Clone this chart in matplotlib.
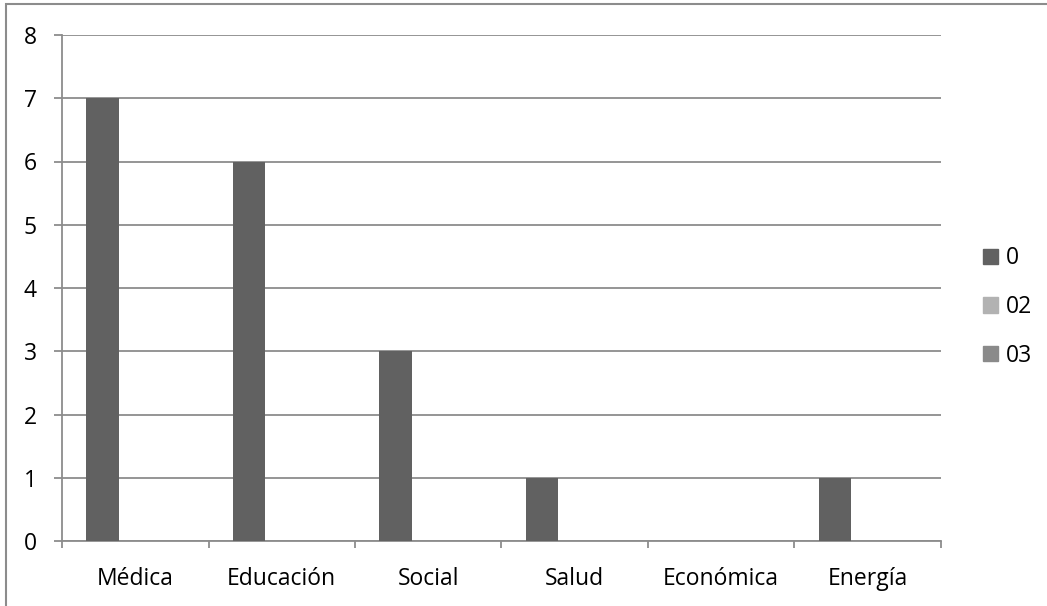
import numpy as np
import matplotlib.pyplot as plt
from matplotlib.patches import Rectangle, Patch

categories = ['Médica', 'Educación', 'Social', 'Salud', 'Económica', 'Energía']
series_names = ['0', '02', '03']
serie_0 = [7, 6, 3, 1, 0, 1]
serie_02 = [0, 0, 0, 0, 0, 0]
serie_03 = [0, 0, 0, 0, 0, 0]
colors = ['#616161', '#b2b2b2', '#8a8a8a']

plt.rcParams['font.family'] = ['Open Sans', 'DejaVu Sans']

fig = plt.figure(figsize=(10.47, 6.06), dpi=100)
fig.patches.append(Rectangle((6 / 1047, -0.01), 1.1, 1 - 4 / 606 + 0.01,
                             transform=fig.transFigure, fill=False,
                             edgecolor='#8c8c8c', linewidth=1.5))
ax = fig.add_axes([62 / 1047, 65 / 606, 879 / 1047, 506 / 606])

x = np.arange(len(categories))
w = 0.222
for i, vals in enumerate([serie_0, serie_02, serie_03]):
    ax.bar(x + (i - 1) * w, vals, width=w, color=colors[i], zorder=3)

ax.set_xlim(-0.5, len(categories) - 0.5)
ax.set_ylim(0, 8)
ax.set_yticks(range(0, 9))
ax.yaxis.grid(True, color='#8c8c8c', linewidth=1.3, zorder=0)
ax.set_xticks(np.arange(-0.5, len(categories), 1))
ax.set_xticklabels([])
ax.set_xticks(x, minor=True)
ax.set_xticklabels(categories, minor=True)
ax.tick_params(axis='x', which='major', length=5, width=1.3, color='#8c8c8c', direction='out')
ax.tick_params(axis='x', which='minor', length=0, pad=18.5, labelsize=16.5)
ax.tick_params(axis='y', length=6, width=1.3, color='#8c8c8c', labelsize=16.5, pad=12)
for s in ['top', 'right']:
    ax.spines[s].set_visible(False)
for s in ['left', 'bottom']:
    ax.spines[s].set_color('#8c8c8c')
    ax.spines[s].set_linewidth(1.3)

handles = [Patch(color=c) for c in colors]
fig.legend(handles, series_names, loc='center left', bbox_to_anchor=(983 / 1047, 1 - 307 / 606),
           frameon=False, fontsize=16.5, handlelength=0.65, handleheight=0.65,
           handletextpad=0.35, labelspacing=1.08, borderpad=0, borderaxespad=0)

fig.savefig('out.png', dpi=100)
